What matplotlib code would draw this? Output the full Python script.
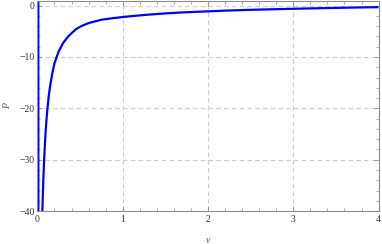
import matplotlib
matplotlib.use("Agg")
import matplotlib.pyplot as plt
from matplotlib.ticker import MultipleLocator

# Data
v_main = [0.058, 0.064, 0.07, 0.077, 0.085, 0.092, 0.1, 0.11, 0.12, 0.135, 0.15,
          0.175, 0.2, 0.25, 0.3, 0.36, 0.45, 0.52, 0.6, 0.75, 0.9, 1.0, 1.15, 1.3,
          1.5, 1.7, 2.0, 2.2, 2.5, 2.8, 3.1, 3.4, 3.7, 4.0]
P_main = [-40.0, -36.5, -33.5, -30.5, -27.8, -25.6, -23.5, -21.4, -19.6, -17.3, -15.5,
          -13.1, -11.2, -8.9, -7.3, -6.0, -4.6, -3.95, -3.4, -2.75, -2.42, -2.22, -1.98, -1.76,
          -1.52, -1.33, -1.12, -0.98, -0.82, -0.7, -0.58, -0.48, -0.38, -0.3]
v_branch = [0.011, 0.010]
P_branch = [-41.0, 2.0]

x_ticks = [0, 1, 2, 3, 4]
y_ticks = [0, -10, -20, -30, -40]
y_tick_labels = ["0", "\u221210", "\u221220", "\u221230", "\u221240"]

fig = plt.figure(figsize=(3.82, 2.44), dpi=100)
ax = fig.add_axes([0.098, 0.135, 0.893, 0.861])

ax.plot(v_main, P_main, color=(0, 0, 1), lw=1.6, solid_capstyle="butt")
ax.plot(v_branch, P_branch, color=(0, 0, 1), lw=1.6)

ax.set_xlim(0, 4)
ax.set_ylim(-40, 0.9)
ax.set_xticks(x_ticks)
ax.set_yticks(y_ticks)
ax.set_yticklabels(y_tick_labels)
ax.xaxis.set_minor_locator(MultipleLocator(0.2))
ax.yaxis.set_minor_locator(MultipleLocator(2))

ax.grid(True, which="major", color="#cccccc", linestyle=(0, (4, 3)), lw=0.8)
ax.set_axisbelow(True)

for s in ax.spines.values():
    s.set_color("#8c8c8c")
    s.set_linewidth(0.8)

ax.tick_params(which="both", direction="in", top=True, right=True,
               colors="#8c8c8c", labelcolor="#333333", labelsize=7)
ax.tick_params(which="major", length=3.5, width=0.6)
ax.tick_params(which="minor", length=2, width=0.5)
ax.tick_params(axis="x", pad=3)
ax.tick_params(axis="y", pad=2)

for lab in ax.get_xticklabels() + ax.get_yticklabels():
    lab.set_fontfamily("Liberation Serif")

ax.set_xlabel("v", fontsize=7, fontstyle="italic", family="Liberation Serif",
              color="#555555")
ax.set_ylabel("P", fontsize=7, fontstyle="italic", family="Liberation Serif",
              color="#555555")
ax.xaxis.set_label_coords(0.5, -0.12)
ax.yaxis.set_label_coords(-0.075, 0.5)

fig.savefig("out.png", dpi=100)
